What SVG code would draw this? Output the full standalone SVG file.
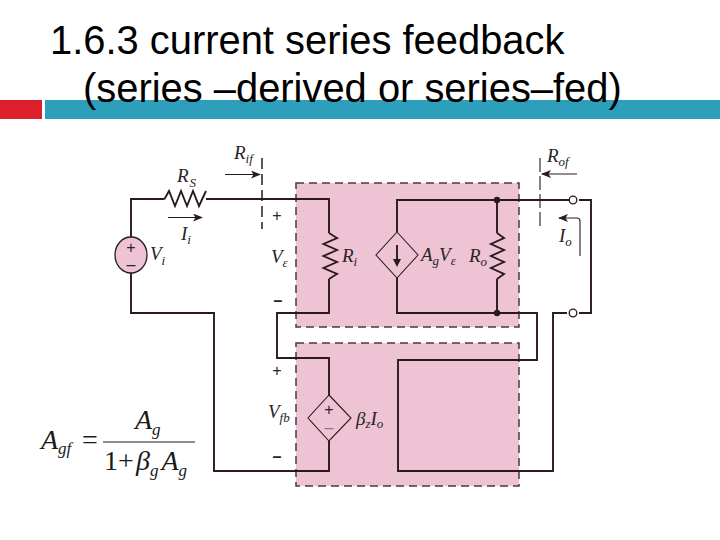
<svg xmlns="http://www.w3.org/2000/svg" width="720" height="540" viewBox="0 0 720 540">
<style>
.t{font-family:"Liberation Sans",Arial,sans-serif;font-size:39.900px;fill:#000}
.m{font-family:"Liberation Serif","Times New Roman",serif;font-style:italic;font-size:19px;fill:#2a2226}
.s{font-size:13px}
.u{font-family:"Liberation Sans",Arial,sans-serif;font-size:16px;fill:#2a2226;text-anchor:middle}
.f{font-family:"Liberation Serif","Times New Roman",serif;font-style:italic;font-size:28px;fill:#1a1a1a}
.fs{font-size:17px}
.w{fill:none;stroke:#2a1a20;stroke-width:1.900}
.n{fill:none;stroke:#2a1a20;stroke-width:1.100}
.pink{fill:#eec3d3;stroke:#4a3a40;stroke-width:1.500;stroke-dasharray:8 5}
.d{fill:#2a1a20}
.o{fill:#fff;stroke:#2a1a20;stroke-width:1.300}
.g{fill:#eec3d3;stroke:#2a1a20;stroke-width:1.300}
</style>
<defs>
<marker id="a" markerWidth="10" markerHeight="8" refX="9" refY="4" orient="auto" markerUnits="userSpaceOnUse"><path d="M0 0L10 4L0 8L2.500 4Z" fill="#2a1a20"/></marker>
</defs>
<g id="header">
<rect x="0" y="100" width="42" height="19" fill="#dc1f2a"/>
<rect x="45" y="100" width="675" height="19" fill="#2e9fbb"/>
<text class="t" x="50" y="54">1.6.3 current series feedback</text>
<text class="t" x="83" y="102">(series –derived or series–fed)</text>
</g>
<g id="amplifier-box"><rect class="pink" x="296" y="183" width="223" height="144"/></g>
<g id="feedback-box"><rect class="pink" x="296" y="343" width="223" height="143"/></g>
<g id="connectors">
<path class="w" d="M131 237V199H164.500M206 199H329V233M329 279V313H277V358H329V395M329 441V471H214V313H131V273"/>
<path class="w" d="M397 232V200H573M579 200H591V313H579M567 313H553V471H398V360H537V313H397V278"/>
<path class="w" d="M497 200V233M497 279V313"/>
<path class="n" d="M262 158V229" stroke-dasharray="11 5" style="stroke-width:1.500"/>
<path class="n" d="M540 158V229" stroke-dasharray="14 4"/>
<path class="n" d="M225 174.500H260" marker-end="url(#a)"/>
<path class="n" d="M168 217.500H202" marker-end="url(#a)"/>
<path class="n" d="M577 174H542" marker-end="url(#a)"/>
<path class="n" d="M580 256V221Q580 218 577 218H559" marker-end="url(#a)"/>
</g>
<g id="Rs"><path class="w" d="M164.500 199L169 191L175 206L181 191L187 206L193 191L199 206L206 191"/><text class="m" x="177" y="182">R<tspan class="s" dx="1" dy="5">S</tspan></text></g>
<g id="Vi"><ellipse class="g" cx="131" cy="255" rx="16" ry="18"/><text class="u" x="131" y="253">+</text><text class="u" x="131" y="270">–</text><text class="m" x="150" y="260">V<tspan class="s" dy="5">i</tspan></text></g>
<g id="Ri"><path class="w" d="M329 233L337 238L323.500 244L337 250L323.500 256L337 262L323.500 268L337 274L329 279"/><text class="m" x="342" y="262">R<tspan class="s" dy="4">i</tspan></text></g>
<g id="Ag"><path class="n" d="M397 232L418 255L397 278L376 255Z"/><path class="w" d="M397 245V262"/><path class="d" d="M393 259H401L397 267Z"/><text class="m" x="421" y="261">A<tspan class="s" dy="4">g</tspan><tspan dy="-4">V</tspan><tspan class="s" dy="4">ε</tspan></text></g>
<g id="Ro"><path class="w" d="M497 233L504 238L491 244L504 250L491 256L504 262L491 268L504 274L497 279"/><text class="m" x="469" y="262">R<tspan class="s" dy="4">o</tspan></text><circle class="d" cx="497" cy="200" r="3.200"/><circle class="d" cx="497" cy="313" r="3.200"/></g>
<g id="out-top"><circle class="o" cx="573" cy="200" r="3.800"/></g>
<g id="out-bottom"><circle class="o" cx="573" cy="313" r="3.800"/></g>
<g id="beta"><path class="n" d="M329 395L351 418L329 441L308 418Z"/><text class="u" x="329" y="415">+</text><text class="u" x="329" y="433" style="fill:#8a7a80">–</text><text class="m" x="356" y="425">β<tspan class="s" dy="3">z</tspan><tspan dy="-3">I</tspan><tspan class="s" dy="3">o</tspan></text></g>
<g id="labels">
<text class="m" x="234" y="159">R<tspan class="s" dy="4">if</tspan></text>
<text class="m" x="181" y="240">I<tspan class="s" dy="4">i</tspan></text>
<text class="u" x="277" y="221">+</text>
<text class="m" x="271" y="263">V<tspan class="s" dy="4">ε</tspan></text>
<text class="u" x="278" y="306" style="font-weight:bold">–</text>
<text class="m" x="547" y="162">R<tspan class="s" dy="4">of</tspan></text>
<text class="m" x="559" y="242">I<tspan class="s" dy="4">o</tspan></text>
<text class="u" x="277" y="376">+</text>
<text class="m" x="268" y="418">V<tspan class="s" dy="4">fb</tspan></text>
<text class="u" x="277" y="462" style="font-weight:bold">–</text>
</g>
<g id="formula">
<text class="f" x="41" y="449">A<tspan class="fs" dy="5">gf</tspan></text>
<text class="f" x="82" y="449" style="font-style:normal">=</text>
<path d="M103 442H195" stroke="#1a1a1a" stroke-width="1"/>
<text class="f" x="135" y="429">A<tspan class="fs" dy="6">g</tspan></text>
<text class="f" x="104" y="470" style="font-style:normal">1+</text>
<text class="f" x="136" y="470">β<tspan class="fs" dy="6">g</tspan><tspan dy="-6" dx="3">A</tspan><tspan class="fs" dy="6">g</tspan></text>
</g>
</svg>
